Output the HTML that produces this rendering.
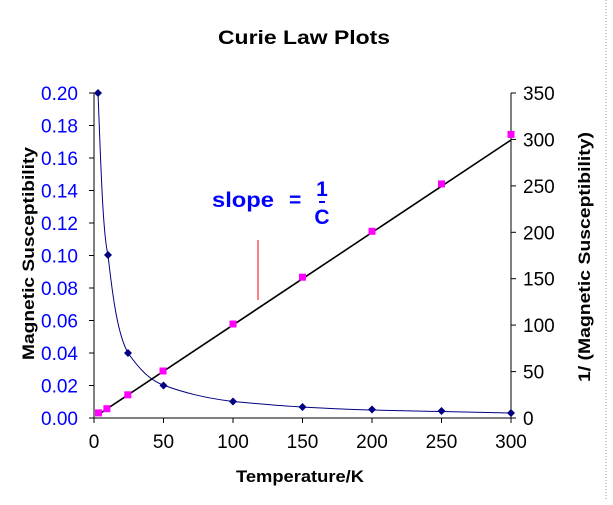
<!DOCTYPE html>
<html><head><style>body{margin:0;background:#fff}</style></head><body>
<svg width="613" height="500" xmlns="http://www.w3.org/2000/svg" font-family="Liberation Sans, sans-serif">
<rect width="613" height="500" fill="#fff"/>
<line x1="606" y1="0" x2="606" y2="500" stroke="#999" stroke-dasharray="1,2"/>
<text x="218" y="44" font-size="19" font-weight="bold" textLength="172" lengthAdjust="spacingAndGlyphs">Curie Law Plots</text>
<g stroke="#000" stroke-width="1">
<line x1="94" y1="93" x2="94" y2="418"/>
<line x1="94" y1="418" x2="511" y2="418"/>
<line x1="511" y1="93" x2="511" y2="418"/>
</g>
<g stroke="#000">
<line x1="89" y1="93" x2="94" y2="93"/><line x1="89" y1="125.5" x2="94" y2="125.5"/><line x1="89" y1="158" x2="94" y2="158"/><line x1="89" y1="190.5" x2="94" y2="190.5"/><line x1="89" y1="223" x2="94" y2="223"/><line x1="89" y1="255.5" x2="94" y2="255.5"/><line x1="89" y1="288" x2="94" y2="288"/><line x1="89" y1="320.5" x2="94" y2="320.5"/><line x1="89" y1="353" x2="94" y2="353"/><line x1="89" y1="385.5" x2="94" y2="385.5"/><line x1="89" y1="418" x2="94" y2="418"/>
<line x1="511" y1="93" x2="516" y2="93"/><line x1="511" y1="139.4" x2="516" y2="139.4"/><line x1="511" y1="185.9" x2="516" y2="185.9"/><line x1="511" y1="232.3" x2="516" y2="232.3"/><line x1="511" y1="278.7" x2="516" y2="278.7"/><line x1="511" y1="325.1" x2="516" y2="325.1"/><line x1="511" y1="371.6" x2="516" y2="371.6"/><line x1="511" y1="418" x2="516" y2="418"/>
<line x1="94" y1="418" x2="94" y2="423"/><line x1="163.5" y1="418" x2="163.5" y2="423"/><line x1="233" y1="418" x2="233" y2="423"/><line x1="302.5" y1="418" x2="302.5" y2="423"/><line x1="372" y1="418" x2="372" y2="423"/><line x1="441.5" y1="418" x2="441.5" y2="423"/><line x1="511" y1="418" x2="511" y2="423"/>
</g>
<g font-size="19" fill="#0000ff" text-anchor="end">
<text x="78" y="100">0.20</text><text x="78" y="132.5">0.18</text><text x="78" y="165">0.16</text><text x="78" y="197.5">0.14</text><text x="78" y="230">0.12</text><text x="78" y="262.5">0.10</text><text x="78" y="295">0.08</text><text x="78" y="327.5">0.06</text><text x="78" y="360">0.04</text><text x="78" y="392.5">0.02</text><text x="78" y="425">0.00</text>
</g>
<g font-size="19" fill="#000">
<text x="523" y="100">350</text><text x="523" y="146.4">300</text><text x="523" y="192.9">250</text><text x="523" y="239.3">200</text><text x="523" y="285.7">150</text><text x="523" y="332.1">100</text><text x="523" y="378.6">50</text><text x="523" y="425">0</text>
</g>
<g font-size="19" fill="#000" text-anchor="middle">
<text x="94" y="448">0</text><text x="163.5" y="448">50</text><text x="233" y="448">100</text><text x="302.5" y="448">150</text><text x="372" y="448">200</text><text x="441.5" y="448">250</text><text x="511" y="448">300</text>
</g>
<text x="236" y="482" font-size="17" font-weight="bold" textLength="128" lengthAdjust="spacingAndGlyphs">Temperature/K</text>
<text transform="translate(34,360) rotate(-90)" font-size="17" font-weight="bold" textLength="213" lengthAdjust="spacingAndGlyphs">Magnetic Susceptibility</text>
<text transform="translate(590,382) rotate(-90)" font-size="17" font-weight="bold" textLength="250" lengthAdjust="spacingAndGlyphs">1/ (Magnetic Susceptibility)</text>
<path d="M98,93 C101,170 103,235 108,255 C113,300 118,335 128,353 C140,370 150,380 163,385 C185,393 205,398 233,401.5 C260,404 280,406 302.5,407 C330,408.5 350,409.5 372,410 C400,410.7 420,411.2 441.5,411.5 C470,412 490,412.5 511,413" fill="none" stroke="#000080" stroke-width="1"/>
<g fill="#000080">
<path d="M98,89 l4,4 l-4,4 l-4,-4z"/><path d="M108,251 l4,4 l-4,4 l-4,-4z"/><path d="M128,349 l4,4 l-4,4 l-4,-4z"/><path d="M163.5,381.5 l4,4 l-4,4 l-4,-4z"/><path d="M233,397.5 l4,4 l-4,4 l-4,-4z"/><path d="M302.5,403 l4,4 l-4,4 l-4,-4z"/><path d="M372,405.5 l4,4 l-4,4 l-4,-4z"/><path d="M441.5,407 l4,4 l-4,4 l-4,-4z"/><path d="M511,409 l4,4 l-4,4 l-4,-4z"/>
</g>
<line x1="100" y1="413.5" x2="511" y2="140" stroke="#000" stroke-width="1.6"/>
<g fill="#ff00ff">
<rect x="95" y="409.4" width="7" height="7"/><rect x="103.4" y="405.2" width="7" height="7"/><rect x="124.3" y="391.3" width="7" height="7"/><rect x="159.5" y="367.5" width="7" height="7"/><rect x="229.5" y="320.5" width="7" height="7"/><rect x="299" y="273.7" width="7" height="7"/><rect x="368.5" y="227.8" width="7" height="7"/><rect x="438" y="180.4" width="7" height="7"/><rect x="507.5" y="130.9" width="7" height="7"/>
</g>
<line x1="258" y1="240" x2="258" y2="300" stroke="#ff0000" stroke-width="1"/>
<g fill="#0000ff" font-weight="bold" font-size="21">
<text x="212" y="207" textLength="62" lengthAdjust="spacingAndGlyphs">slope</text><text x="289" y="207">=</text>
<text x="322" y="196" text-anchor="middle">1</text>
<text x="322" y="224" text-anchor="middle">C</text>
</g>
<line x1="319" y1="202" x2="325" y2="202" stroke="#0000ff" stroke-width="2"/>
</svg>
</body></html>
